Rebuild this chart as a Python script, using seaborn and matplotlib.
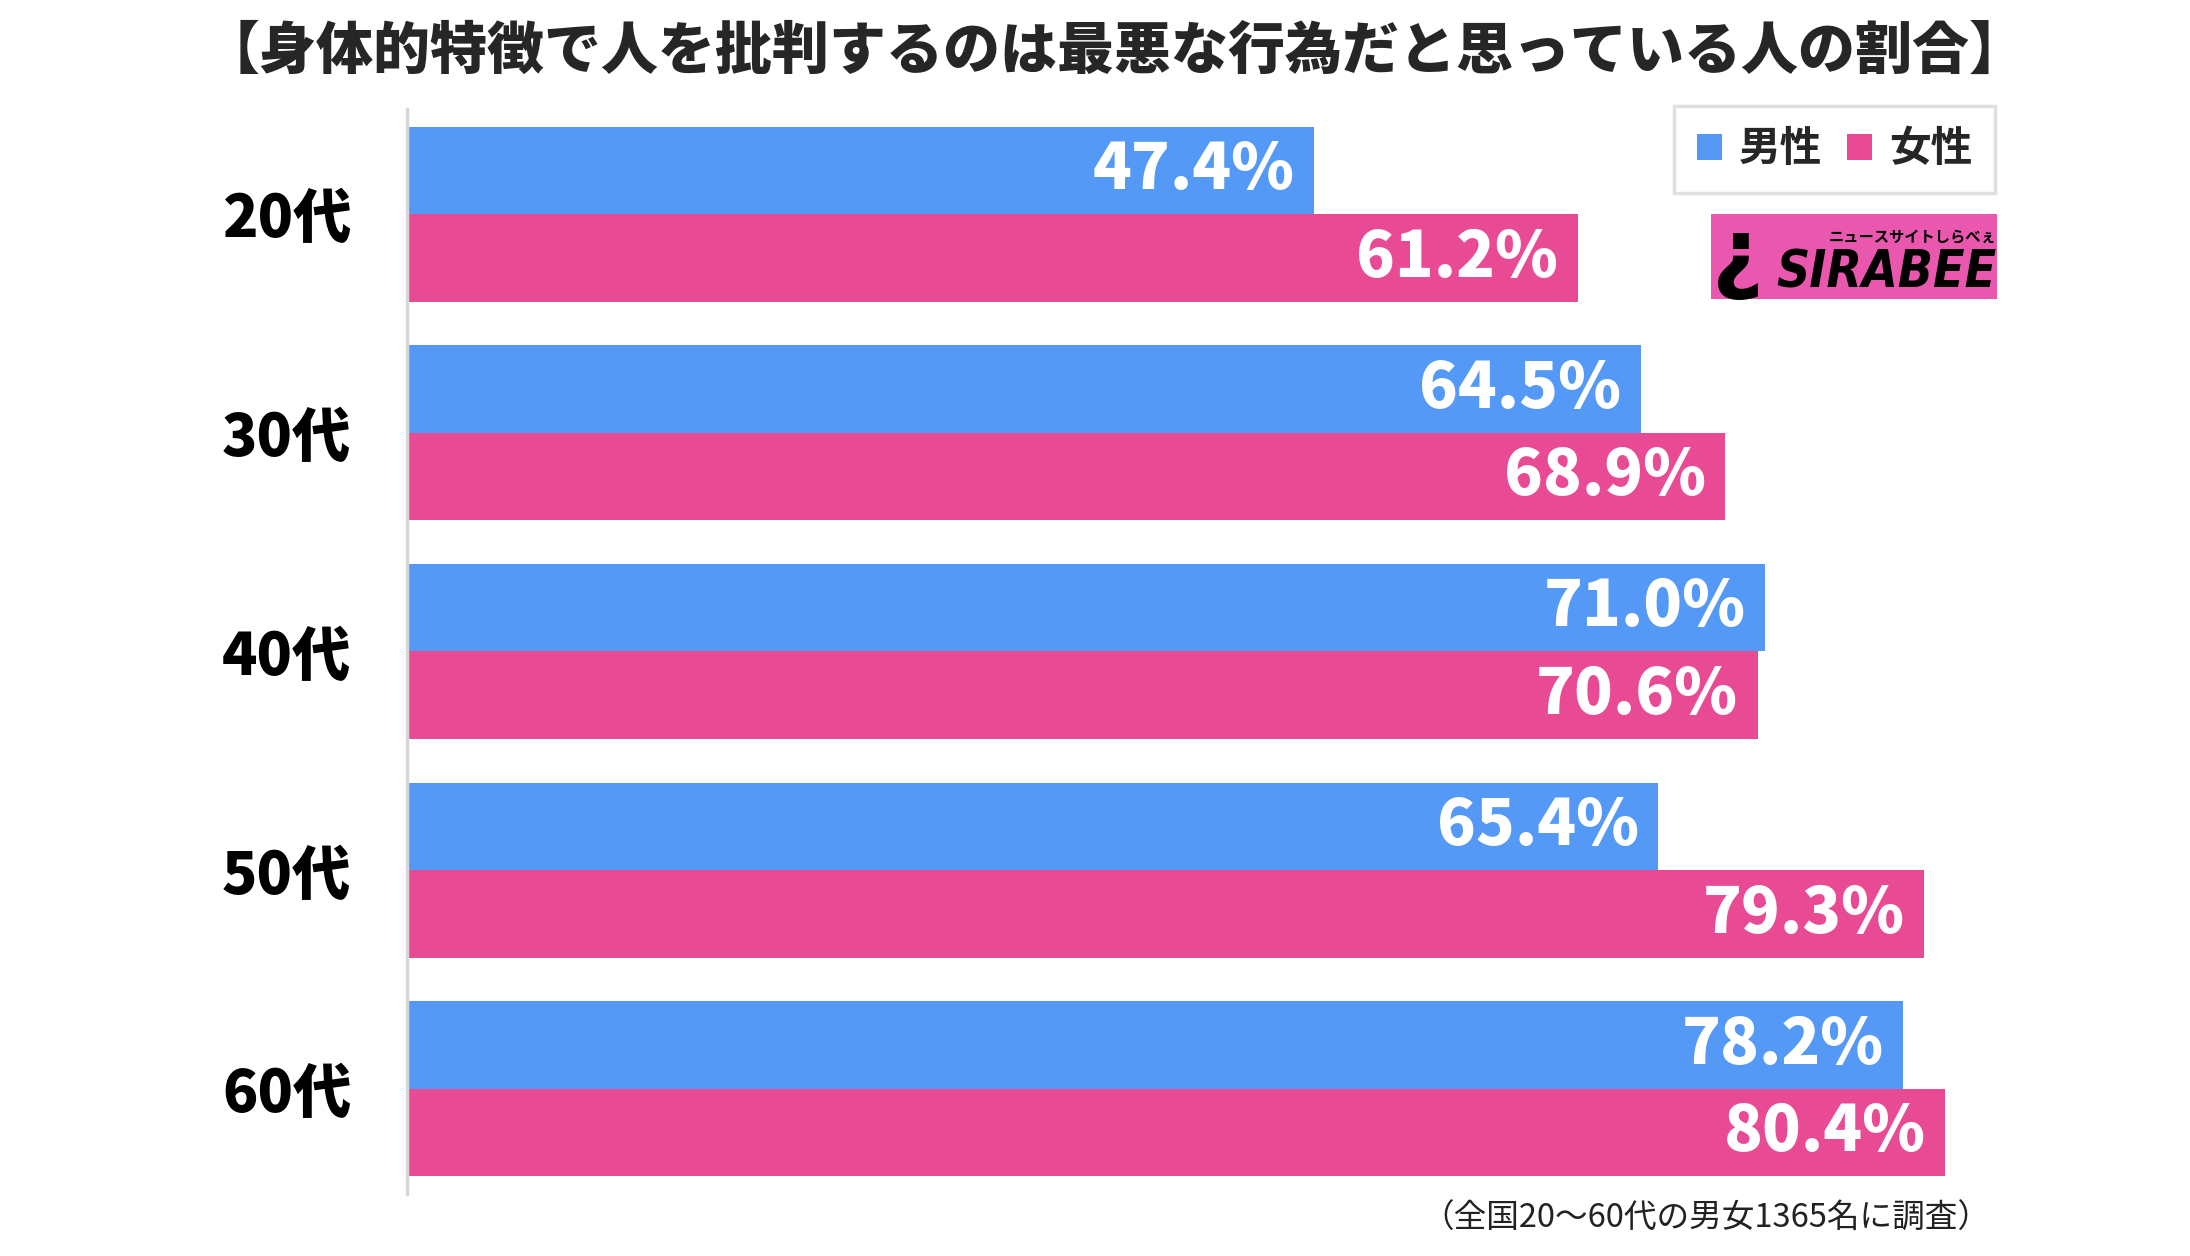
import matplotlib
matplotlib.use("Agg")
import matplotlib.pyplot as plt
import matplotlib.patches as mpatches
import pandas as pd
import seaborn as sns

ages = ["20代", "30代", "40代", "50代", "60代"]
male = [47.4, 64.5, 71.0, 65.4, 78.2]
female = [61.2, 68.9, 70.6, 79.3, 80.4]
series = ["男性", "女性"]
colors = ["#5399F5", "#E84A93"]

title = "【身体的特徴で人を批判するのは最悪な行為だと思っている人の割合】"
note = "（全国20〜60代の男女1365名に調査）"


def build_frame():
    rows = []
    for age, m, f in zip(ages, male, female):
        rows.append({"age": age, "sex": series[0], "value": m})
        rows.append({"age": age, "sex": series[1], "value": f})
    return pd.DataFrame(rows)


def plot_chart(df):
    sns.set_style("white")
    plt.rcParams["font.family"] = ["Noto Sans CJK JP", "DejaVu Sans"]

    fig = plt.figure(figsize=(21.9, 12.56), dpi=100)
    ax = fig.add_axes([0.1858, 0.0494, 0.7338, 0.8638])
    sns.barplot(
        data=df,
        x="value",
        y="age",
        hue="sex",
        order=ages,
        hue_order=series,
        palette=colors,
        orient="h",
        width=0.8,
        saturation=1,
        linewidth=0,
        ax=ax,
    )
    ax.set_xlim(0, 84)
    ax.set_ylim(4.48, -0.48)
    ax.set_xlabel("")
    ax.set_ylabel("")
    ax.set_xticks([])
    for side in ["top", "right", "bottom"]:
        ax.spines[side].set_visible(False)
    ax.spines["left"].set_color("#d6d6d6")
    ax.spines["left"].set_linewidth(2.5)
    ax.tick_params(axis="y", length=0, pad=40)
    for lbl in ax.get_yticklabels():
        lbl.set_fontsize(42)
        lbl.set_fontweight("black")
        lbl.set_color("black")

    for container in ax.containers:
        for bar in container:
            w = bar.get_width()
            ax.annotate(
                f"{w:.1f}%",
                xy=(w, bar.get_y() + bar.get_height() / 2),
                xytext=(-14, 0),
                textcoords="offset points",
                ha="right",
                va="center",
                fontsize=46,
                fontweight="black",
                color="white",
            )

    handles, labels = ax.get_legend_handles_labels()
    ax.get_legend().remove()
    leg = fig.legend(
        handles,
        labels,
        loc="upper right",
        bbox_to_anchor=(0.911, 0.916),
        borderaxespad=0,
        ncol=2,
        frameon=True,
        fancybox=False,
        edgecolor="#d9d9d9",
        handlelength=0.6,
        handleheight=0.6,
        handletextpad=0.4,
        columnspacing=0.6,
        borderpad=0.55,
        prop={"weight": "bold", "size": 30},
    )
    leg.get_frame().set_linewidth(2.5)

    # logo box
    fig.patches.append(mpatches.Rectangle(
        (0.7813, 0.762), 0.1306, 0.068,
        transform=fig.transFigure, facecolor="#E958AE", edgecolor="none"))
    fig.text(0.8616, 0.7826, "SIRABEE", fontsize=37, fontweight="black",
             style="italic", fontstretch="condensed", color="black",
             ha="center", va="center", family=["DejaVu Sans"])
    fig.text(0.8735, 0.8115, "ニュースサイトしらべぇ", fontsize=11,
             fontweight="bold", color="black", ha="center", va="center")
    fig.text(0.7936, 0.795, "¿", fontsize=64, fontweight="black",
             color="black", ha="center", va="center",
             family=["DejaVu Sans"])

    fig.text(0.509, 0.958, title, fontsize=41, fontweight="black",
             ha="center", va="center")
    fig.text(0.909, 0.0295, note, fontsize=23.5, color="#222222",
             ha="right", va="center")

    fig.savefig("out.png", dpi=100)


if __name__ == "__main__":
    plot_chart(build_frame())
